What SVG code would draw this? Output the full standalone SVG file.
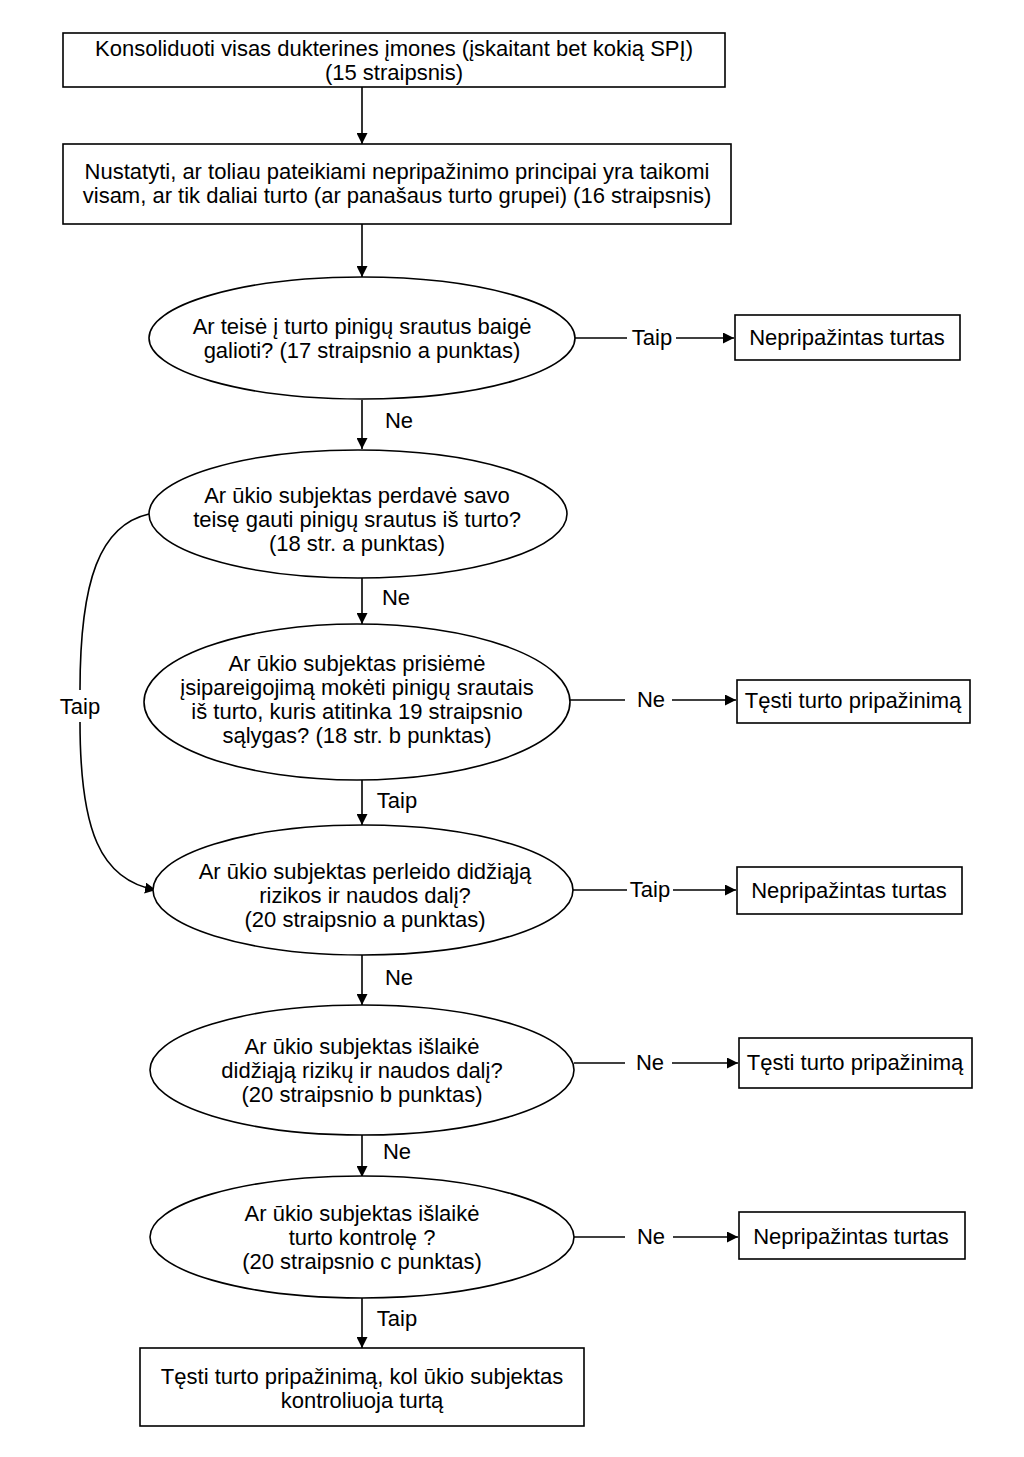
<svg xmlns="http://www.w3.org/2000/svg" width="1024" height="1457" viewBox="0 0 1024 1457">
<style>
.n{fill:#fff;stroke:#000;stroke-width:1.6}
.t{font-family:"Liberation Sans",Arial,sans-serif;font-size:22px;fill:#000;text-anchor:middle}
.c{fill:none;stroke:#000;stroke-width:1.6}
</style>
<defs>
<marker id="a" viewBox="0 0 10 10" refX="10" refY="5" markerWidth="11" markerHeight="11" markerUnits="userSpaceOnUse" orient="auto">
<path d="M0,0 L10,5 L0,10 z" fill="#000"/>
</marker>
</defs>
<rect width="1024" height="1457" fill="#fff"/>
<g id="connectors">
<line class="c" x1="362" y1="87" x2="362" y2="144" marker-end="url(#a)"/>
<line class="c" x1="362" y1="224" x2="362" y2="277" marker-end="url(#a)"/>
<line class="c" x1="575" y1="338" x2="627" y2="338"/>
<line class="c" x1="676" y1="338" x2="734" y2="338" marker-end="url(#a)"/>
<text class="t" x="652" y="345">Taip</text>
<line class="c" x1="362" y1="400" x2="362" y2="449" marker-end="url(#a)"/>
<text class="t" x="399" y="428">Ne</text>
<line class="c" x1="362" y1="578" x2="362" y2="624" marker-end="url(#a)"/>
<text class="t" x="396" y="605">Ne</text>
<line class="c" x1="570" y1="700" x2="625" y2="700"/>
<line class="c" x1="672" y1="700" x2="736" y2="700" marker-end="url(#a)"/>
<text class="t" x="651" y="707">Ne</text>
<line class="c" x1="362" y1="780" x2="362" y2="825" marker-end="url(#a)"/>
<text class="t" x="397" y="808">Taip</text>
<line class="c" x1="572" y1="890" x2="627" y2="890"/>
<line class="c" x1="673" y1="890" x2="736" y2="890" marker-end="url(#a)"/>
<text class="t" x="650" y="897">Taip</text>
<path class="c" d="M149,514 C100,525 80,580 80,690"/>
<path class="c" d="M80,722 C80,830 100,880 156,890" marker-end="url(#a)"/>
<text class="t" x="80" y="714">Taip</text>
<line class="c" x1="362" y1="955" x2="362" y2="1005" marker-end="url(#a)"/>
<text class="t" x="399" y="985">Ne</text>
<line class="c" x1="574" y1="1063" x2="625" y2="1063"/>
<line class="c" x1="672" y1="1063" x2="738" y2="1063" marker-end="url(#a)"/>
<text class="t" x="650" y="1070">Ne</text>
<line class="c" x1="362" y1="1135" x2="362" y2="1177" marker-end="url(#a)"/>
<text class="t" x="397" y="1159">Ne</text>
<line class="c" x1="573" y1="1237" x2="625" y2="1237"/>
<line class="c" x1="673" y1="1237" x2="738" y2="1237" marker-end="url(#a)"/>
<text class="t" x="651" y="1244">Ne</text>
<line class="c" x1="362" y1="1298" x2="362" y2="1348" marker-end="url(#a)"/>
<text class="t" x="397" y="1326">Taip</text>
</g>
<g id="n1"><rect class="n" x="63" y="33" width="662" height="54"/>
<text class="t" x="394" y="56">Konsoliduoti visas dukterines įmones (įskaitant bet kokią SPĮ)</text>
<text class="t" x="394" y="80">(15 straipsnis)</text></g>
<g id="n2"><rect class="n" x="63" y="144" width="668" height="80"/>
<text class="t" x="397" y="179">Nustatyti, ar toliau pateikiami nepripažinimo principai yra taikomi</text>
<text class="t" x="397" y="203">visam, ar tik daliai turto (ar panašaus turto grupei) (16 straipsnis)</text></g>
<g id="d1"><ellipse class="n" cx="362" cy="338" rx="213" ry="61"/>
<text class="t" x="362" y="334">Ar teisė į turto pinigų srautus baigė</text>
<text class="t" x="362" y="358">galioti? (17 straipsnio a punktas)</text></g>
<g id="r1"><rect class="n" x="735" y="315" width="225" height="45"/>
<text class="t" x="847" y="345">Nepripažintas turtas</text></g>
<g id="d2"><ellipse class="n" cx="358" cy="514" rx="209" ry="64"/>
<text class="t" x="357" y="503">Ar ūkio subjektas perdavė savo</text>
<text class="t" x="357" y="527">teisę gauti pinigų srautus iš turto?</text>
<text class="t" x="357" y="551">(18 str. a punktas)</text></g>
<g id="d3"><ellipse class="n" cx="357" cy="702" rx="213" ry="78"/>
<text class="t" x="357" y="671">Ar ūkio subjektas prisiėmė</text>
<text class="t" x="357" y="695">įsipareigojimą mokėti pinigų srautais</text>
<text class="t" x="357" y="719">iš turto, kuris atitinka 19 straipsnio</text>
<text class="t" x="357" y="743">sąlygas? (18 str. b punktas)</text></g>
<g id="r2"><rect class="n" x="737" y="680" width="233" height="43"/>
<text class="t" x="853" y="708">Tęsti turto pripažinimą</text></g>
<g id="d4"><ellipse class="n" cx="363" cy="890" rx="210" ry="65"/>
<text class="t" x="365" y="879">Ar ūkio subjektas perleido didžiąją</text>
<text class="t" x="365" y="903">rizikos ir naudos dalį?</text>
<text class="t" x="365" y="927">(20 straipsnio a punktas)</text></g>
<g id="r3"><rect class="n" x="737" y="867" width="225" height="47"/>
<text class="t" x="849" y="898">Nepripažintas turtas</text></g>
<g id="d5"><ellipse class="n" cx="362" cy="1070" rx="212" ry="65"/>
<text class="t" x="362" y="1054">Ar ūkio subjektas išlaikė</text>
<text class="t" x="362" y="1078">didžiąją rizikų ir naudos dalį?</text>
<text class="t" x="362" y="1102">(20 straipsnio b punktas)</text></g>
<g id="r4"><rect class="n" x="739" y="1038" width="233" height="50"/>
<text class="t" x="855" y="1070">Tęsti turto pripažinimą</text></g>
<g id="d6"><ellipse class="n" cx="362" cy="1237" rx="212" ry="61"/>
<text class="t" x="362" y="1221">Ar ūkio subjektas išlaikė</text>
<text class="t" x="362" y="1245">turto kontrolę ?</text>
<text class="t" x="362" y="1269">(20 straipsnio c punktas)</text></g>
<g id="r5"><rect class="n" x="739" y="1212" width="226" height="47"/>
<text class="t" x="851" y="1244">Nepripažintas turtas</text></g>
<g id="n3"><rect class="n" x="140" y="1348" width="444" height="78"/>
<text class="t" x="362" y="1384">Tęsti turto pripažinimą, kol ūkio subjektas</text>
<text class="t" x="362" y="1408">kontroliuoja turtą</text></g>
</svg>
